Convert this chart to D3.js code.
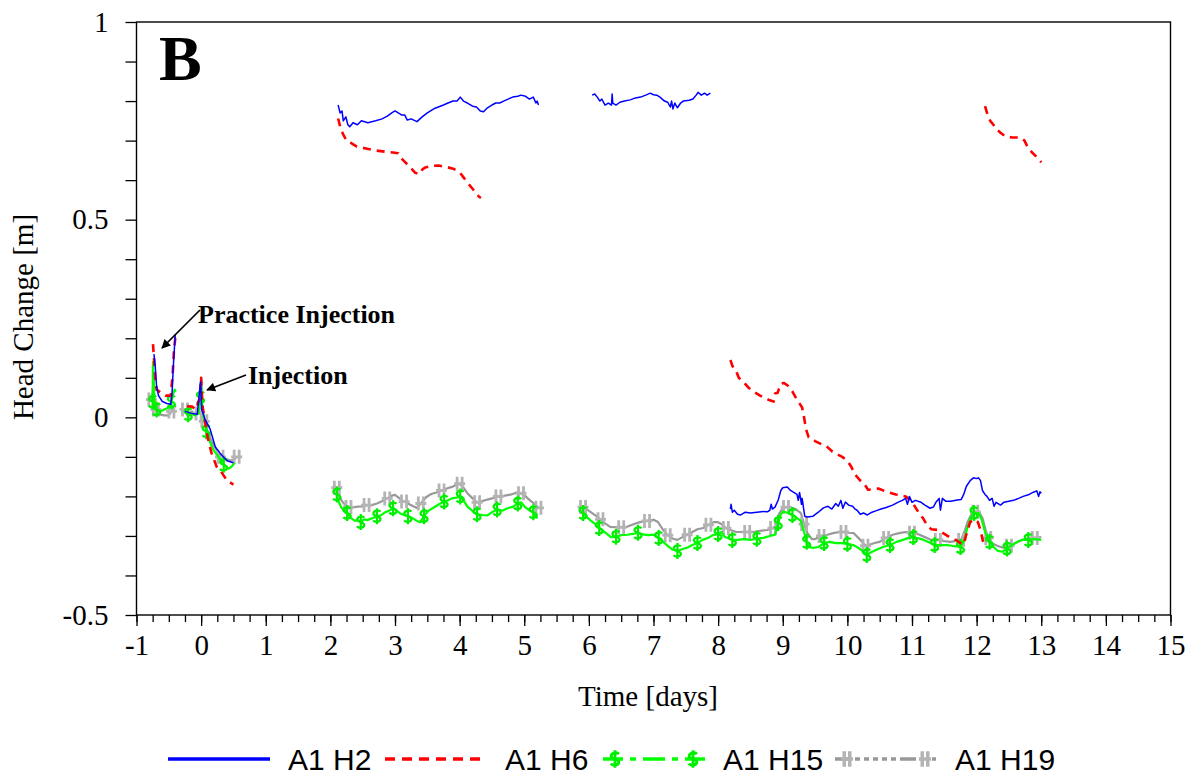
<!DOCTYPE html>
<html>
<head>
<meta charset="utf-8">
<script src="https://cdn.jsdelivr.net/npm/d3@7"></script>
<style>
  html, body { margin: 0; padding: 0; background: #fff; }
  svg { display: block; }
</style>
</head>
<body>
<svg id="chart" width="1194" height="778"></svg>
<script>
// Head change records (days since injection, metres), one array per logging segment
const h2 = [
  [[-0.73,0.16],[-0.71,0.13],[-0.69,0.08],[-0.66,0.055],[-0.60,0.04],[-0.53,0.035],[-0.47,0.033],[-0.45,0.06],[-0.43,0.13],[-0.40,0.21]],
  [[-0.25,0.015],[-0.15,0.01],[-0.06,0.008],[-0.01,0.09],[0.01,0.02],[0.06,-0.005],[0.14,-0.03],[0.22,-0.075],[0.29,-0.09],[0.40,-0.11],[0.50,-0.115]],
  [[2.12,0.79],[2.15,0.77],[2.18,0.775],[2.20,0.75],[2.24,0.76],[2.27,0.74],[2.30,0.735],[2.35,0.745],[2.42,0.74],[2.48,0.75],[2.58,0.745],[2.70,0.75],[2.80,0.755],[2.88,0.762],[2.95,0.77],[3.00,0.775],[3.05,0.77],[3.10,0.765],[3.15,0.765],[3.19,0.752],[3.25,0.755],[3.34,0.748],[3.42,0.76],[3.50,0.77],[3.55,0.775],[3.62,0.782],[3.70,0.787],[3.75,0.79],[3.82,0.795],[3.90,0.80],[3.96,0.80],[4.01,0.81],[4.06,0.80],[4.12,0.795],[4.20,0.787],[4.26,0.785],[4.32,0.775],[4.37,0.773],[4.43,0.783],[4.50,0.79],[4.56,0.795],[4.62,0.795],[4.68,0.80],[4.75,0.805],[4.82,0.81],[4.90,0.812],[4.95,0.815],[5.02,0.812],[5.08,0.805],[5.14,0.81],[5.18,0.795],[5.20,0.80],[5.22,0.79]],
  [[6.05,0.815],[6.09,0.818],[6.13,0.81],[6.17,0.80],[6.20,0.805],[6.25,0.79],[6.30,0.795],[6.35,0.79],[6.36,0.818],[6.37,0.795],[6.42,0.79],[6.48,0.797],[6.55,0.80],[6.64,0.803],[6.72,0.808],[6.80,0.81],[6.88,0.815],[6.95,0.82],[7.00,0.816],[7.05,0.815],[7.10,0.81],[7.17,0.80],[7.22,0.797],[7.26,0.785],[7.28,0.80],[7.30,0.78],[7.33,0.795],[7.37,0.783],[7.42,0.795],[7.46,0.80],[7.55,0.802],[7.61,0.805],[7.66,0.815],[7.69,0.822],[7.74,0.815],[7.79,0.82],[7.83,0.815],[7.88,0.82]],
  [[8.19,-0.232],[8.20,-0.22],[8.22,-0.24],[8.25,-0.235],[8.30,-0.245],[8.35,-0.247],[8.42,-0.24],[8.50,-0.242],[8.60,-0.24],[8.70,-0.238],[8.76,-0.239],[8.80,-0.235],[8.82,-0.22],[8.84,-0.232],[8.88,-0.227],[8.93,-0.209],[8.97,-0.185],[9.00,-0.178],[9.07,-0.176],[9.12,-0.185],[9.17,-0.19],[9.22,-0.195],[9.24,-0.21],[9.26,-0.19],[9.29,-0.22],[9.30,-0.205],[9.34,-0.25],[9.38,-0.252],[9.47,-0.25],[9.55,-0.24],[9.63,-0.229],[9.70,-0.225],[9.76,-0.232],[9.82,-0.218],[9.86,-0.225],[9.90,-0.21],[9.93,-0.23],[9.97,-0.214],[10.02,-0.222],[10.08,-0.225],[10.12,-0.232],[10.15,-0.235],[10.20,-0.245],[10.25,-0.242],[10.31,-0.247],[10.38,-0.24],[10.45,-0.236],[10.52,-0.232],[10.60,-0.228],[10.70,-0.222],[10.78,-0.215],[10.85,-0.21],[10.90,-0.205],[10.93,-0.22],[10.96,-0.20],[11.00,-0.215],[11.05,-0.21],[11.13,-0.214],[11.20,-0.222],[11.28,-0.23],[11.33,-0.227],[11.37,-0.215],[11.42,-0.205],[11.44,-0.235],[11.47,-0.205],[11.52,-0.212],[11.60,-0.212],[11.70,-0.209],[11.76,-0.208],[11.80,-0.195],[11.84,-0.175],[11.90,-0.16],[11.95,-0.153],[12.00,-0.155],[12.03,-0.153],[12.06,-0.16],[12.09,-0.185],[12.13,-0.195],[12.16,-0.20],[12.20,-0.21],[12.24,-0.205],[12.27,-0.225],[12.30,-0.215],[12.37,-0.222],[12.42,-0.215],[12.50,-0.212],[12.57,-0.21],[12.65,-0.205],[12.72,-0.20],[12.80,-0.196],[12.87,-0.19],[12.93,-0.186],[12.96,-0.20],[12.98,-0.188],[13.00,-0.192]]
];

const h6 = [
  [[-0.745,0.185],[-0.73,0.15],[-0.71,0.10],[-0.69,0.07],[-0.62,0.062],[-0.55,0.055],[-0.47,0.055],[-0.44,0.11],[-0.42,0.17],[-0.40,0.20],[-0.36,0.205]],
  [[-0.22,0.028],[-0.14,0.027],[-0.08,0.02],[-0.02,0.05],[0.00,0.10],[0.02,0.03],[0.06,-0.01],[0.10,-0.05],[0.16,-0.09],[0.24,-0.125],[0.30,-0.135],[0.40,-0.16],[0.50,-0.17]],
  [[2.12,0.756],[2.16,0.73],[2.20,0.715],[2.25,0.70],[2.31,0.695],[2.41,0.685],[2.55,0.68],[2.70,0.675],[2.85,0.672],[2.97,0.67],[3.05,0.668],[3.10,0.655],[3.16,0.645],[3.25,0.63],[3.31,0.619],[3.37,0.615],[3.43,0.628],[3.47,0.632],[3.58,0.636],[3.67,0.637],[3.80,0.633],[3.90,0.629],[4.00,0.62],[4.06,0.607],[4.13,0.592],[4.19,0.58],[4.25,0.568],[4.30,0.558],[4.33,0.555]],
  [[8.19,0.145],[8.22,0.13],[8.27,0.12],[8.32,0.10],[8.39,0.09],[8.47,0.075],[8.55,0.065],[8.65,0.055],[8.73,0.048],[8.80,0.043],[8.86,0.04],[8.88,0.06],[8.92,0.062],[8.97,0.085],[9.02,0.087],[9.08,0.08],[9.15,0.065],[9.22,0.045],[9.30,0.025],[9.33,0.0],[9.36,-0.03],[9.40,-0.05],[9.50,-0.06],[9.60,-0.068],[9.67,-0.072],[9.77,-0.087],[9.86,-0.095],[9.92,-0.10],[10.00,-0.11],[10.06,-0.125],[10.12,-0.145],[10.20,-0.16],[10.25,-0.166],[10.32,-0.183],[10.40,-0.182],[10.48,-0.18],[10.60,-0.188],[10.75,-0.195],[10.90,-0.20],[10.98,-0.21],[11.05,-0.227],[11.12,-0.245],[11.17,-0.255],[11.24,-0.275],[11.30,-0.283],[11.40,-0.285],[11.50,-0.295],[11.60,-0.305],[11.70,-0.312],[11.78,-0.322],[11.80,-0.32],[11.86,-0.285],[11.90,-0.265],[11.96,-0.258],[12.02,-0.265],[12.06,-0.285],[12.10,-0.315]],
  [[12.13,0.787],[12.17,0.765],[12.21,0.75],[12.26,0.74],[12.30,0.73],[12.37,0.72],[12.45,0.71],[12.55,0.708],[12.68,0.708],[12.74,0.70],[12.80,0.68],[12.87,0.668],[12.94,0.657],[13.00,0.645]]
];

const h15 = [
  [[-0.75,0.04],[-0.745,0.14],[-0.73,0.08],[-0.72,0.03],[-0.69,0.02],[-0.63,0.015],[-0.57,0.02],[-0.50,0.025],[-0.46,0.04],[-0.43,0.06],[-0.41,0.07],[-0.39,0.065]],
  [[-0.20,0.008],[-0.15,0.01],[-0.10,0.005],[-0.04,0.01],[-0.01,0.05],[0.00,0.10],[0.015,0.03],[0.04,0.0],[0.08,-0.035],[0.13,-0.06],[0.20,-0.085],[0.27,-0.10],[0.35,-0.12],[0.42,-0.13],[0.47,-0.125],[0.52,-0.115]],
  [[2.10,-0.195],[2.12,-0.21],[2.16,-0.225],[2.20,-0.235],[2.26,-0.242],[2.32,-0.255],[2.38,-0.262],[2.42,-0.26],[2.47,-0.265],[2.52,-0.258],[2.57,-0.26],[2.65,-0.255],[2.72,-0.25],[2.78,-0.248],[2.85,-0.24],[2.92,-0.235],[2.97,-0.23],[3.02,-0.235],[3.08,-0.243],[3.14,-0.247],[3.20,-0.25],[3.27,-0.255],[3.34,-0.262],[3.39,-0.265],[3.45,-0.25],[3.52,-0.236],[3.60,-0.228],[3.68,-0.22],[3.76,-0.213],[3.82,-0.21],[3.88,-0.205],[3.95,-0.203],[4.01,-0.20],[4.06,-0.21],[4.12,-0.226],[4.20,-0.237],[4.27,-0.245],[4.35,-0.247],[4.43,-0.248],[4.50,-0.24],[4.58,-0.233],[4.66,-0.236],[4.74,-0.23],[4.83,-0.226],[4.90,-0.218],[4.95,-0.215],[5.02,-0.228],[5.08,-0.235],[5.14,-0.24],[5.20,-0.256]],
  [[5.91,-0.242],[5.95,-0.25],[6.02,-0.26],[6.10,-0.27],[6.16,-0.28],[6.22,-0.287],[6.28,-0.295],[6.34,-0.303],[6.42,-0.302],[6.50,-0.298],[6.59,-0.297],[6.68,-0.295],[6.76,-0.292],[6.84,-0.296],[6.92,-0.298],[7.00,-0.297],[7.08,-0.305],[7.15,-0.315],[7.22,-0.325],[7.30,-0.335],[7.37,-0.338],[7.45,-0.333],[7.52,-0.33],[7.60,-0.323],[7.68,-0.318],[7.76,-0.31],[7.84,-0.305],[7.92,-0.298],[8.00,-0.295],[8.05,-0.29],[8.10,-0.302],[8.15,-0.305],[8.22,-0.31],[8.30,-0.31],[8.40,-0.308],[8.50,-0.31],[8.60,-0.307],[8.70,-0.305],[8.80,-0.30],[8.88,-0.297],[8.93,-0.267],[8.97,-0.245],[9.01,-0.238],[9.08,-0.242],[9.15,-0.247],[9.22,-0.255],[9.28,-0.262],[9.33,-0.29],[9.37,-0.315],[9.40,-0.328],[9.47,-0.33],[9.55,-0.328],[9.64,-0.318],[9.73,-0.315],[9.82,-0.318],[9.90,-0.318],[10.00,-0.32],[10.09,-0.323],[10.17,-0.33],[10.25,-0.34],[10.30,-0.348],[10.36,-0.342],[10.45,-0.335],[10.55,-0.328],[10.66,-0.323],[10.76,-0.315],[10.86,-0.31],[10.95,-0.305],[11.02,-0.303],[11.10,-0.306],[11.18,-0.31],[11.28,-0.317],[11.35,-0.323],[11.45,-0.323],[11.55,-0.323],[11.65,-0.326],[11.75,-0.328],[11.81,-0.31],[11.86,-0.277],[11.92,-0.25],[11.96,-0.242],[12.03,-0.242],[12.08,-0.26],[12.13,-0.29],[12.20,-0.315],[12.26,-0.328],[12.33,-0.338],[12.40,-0.34],[12.47,-0.332],[12.55,-0.323],[12.63,-0.315],[12.70,-0.31],[12.80,-0.31],[12.90,-0.308],[13.00,-0.31]]
];

const h19 = [
  [[-0.77,0.045],[-0.75,0.06],[-0.74,0.09],[-0.73,0.04],[-0.70,0.02],[-0.65,0.008],[-0.58,0.005],[-0.50,0.005],[-0.46,0.015],[-0.42,0.025],[-0.39,0.03]],
  [[-0.25,0.02],[-0.20,0.01],[-0.14,0.015],[-0.09,0.005],[-0.04,0.01],[-0.01,0.06],[0.00,0.095],[0.015,0.02],[0.05,-0.01],[0.10,-0.035],[0.16,-0.06],[0.23,-0.08],[0.30,-0.10],[0.38,-0.105],[0.46,-0.11],[0.52,-0.105],[0.55,-0.10]],
  [[2.10,-0.178],[2.12,-0.19],[2.17,-0.21],[2.23,-0.222],[2.28,-0.227],[2.35,-0.228],[2.42,-0.226],[2.50,-0.225],[2.56,-0.222],[2.64,-0.222],[2.72,-0.218],[2.80,-0.212],[2.88,-0.205],[2.95,-0.198],[3.00,-0.196],[3.07,-0.205],[3.14,-0.213],[3.20,-0.218],[3.28,-0.225],[3.34,-0.229],[3.40,-0.218],[3.48,-0.202],[3.56,-0.194],[3.64,-0.19],[3.72,-0.185],[3.80,-0.18],[3.88,-0.176],[3.96,-0.17],[4.00,-0.168],[4.06,-0.178],[4.12,-0.192],[4.20,-0.205],[4.27,-0.215],[4.35,-0.212],[4.43,-0.208],[4.50,-0.205],[4.60,-0.20],[4.70,-0.198],[4.80,-0.195],[4.88,-0.19],[4.95,-0.192],[5.02,-0.20],[5.09,-0.21],[5.15,-0.218],[5.22,-0.229]],
  [[5.91,-0.227],[5.96,-0.232],[6.03,-0.24],[6.10,-0.248],[6.18,-0.258],[6.25,-0.268],[6.33,-0.277],[6.42,-0.278],[6.50,-0.278],[6.59,-0.277],[6.70,-0.27],[6.79,-0.265],[6.90,-0.262],[7.00,-0.259],[7.07,-0.265],[7.15,-0.285],[7.22,-0.298],[7.30,-0.307],[7.37,-0.31],[7.45,-0.303],[7.52,-0.297],[7.60,-0.29],[7.68,-0.283],[7.77,-0.28],[7.85,-0.272],[7.93,-0.265],[7.99,-0.265],[8.05,-0.27],[8.12,-0.28],[8.19,-0.285],[8.28,-0.29],[8.35,-0.29],[8.45,-0.29],[8.55,-0.29],[8.65,-0.287],[8.76,-0.285],[8.85,-0.28],[8.90,-0.275],[8.94,-0.245],[9.00,-0.23],[9.05,-0.227],[9.12,-0.228],[9.20,-0.232],[9.28,-0.242],[9.33,-0.27],[9.38,-0.292],[9.45,-0.308],[9.50,-0.308],[9.60,-0.30],[9.69,-0.297],[9.78,-0.293],[9.87,-0.29],[9.94,-0.29],[10.02,-0.292],[10.10,-0.293],[10.20,-0.31],[10.28,-0.325],[10.33,-0.323],[10.42,-0.318],[10.50,-0.315],[10.60,-0.305],[10.70,-0.297],[10.80,-0.293],[10.90,-0.29],[11.00,-0.292],[11.10,-0.296],[11.20,-0.303],[11.30,-0.31],[11.40,-0.31],[11.50,-0.313],[11.60,-0.315],[11.70,-0.312],[11.76,-0.31],[11.81,-0.29],[11.86,-0.265],[11.92,-0.245],[11.98,-0.239],[12.04,-0.24],[12.09,-0.255],[12.14,-0.285],[12.18,-0.305],[12.25,-0.32],[12.32,-0.325],[12.41,-0.33],[12.50,-0.325],[12.60,-0.318],[12.70,-0.31],[12.80,-0.307],[12.90,-0.305],[13.00,-0.303]]
];

const seriesNames = ["A1 H2", "A1 H6", "A1 H15", "A1 H19"];
const xTicks = d3.range(-1, 16, 1);
const xMinorTicks = d3.range(-1, 15.001, 0.25);
const yTicks = d3.range(-0.5, 1.0001, 0.1).map(v => Math.round(v * 10) / 10);
const yTickLabels = [-0.5, 0, 0.5, 1];

const svg = d3.select("#chart");
const x = d3.scaleLinear().domain([-1, 15]).range([136.5, 1170.5]);
const y = d3.scaleLinear().domain([-0.5, 1]).range([615, 22]);

const serif = "'Liberation Serif', 'Times New Roman', serif";
const sans = "'Liberation Sans', Arial, sans-serif";

// marker glyphs
const dollarPath = "M3.5,-4.5 C2,-6.5 -3.5,-6 -3.5,-2.5 C-3.5,0.5 3.5,-0.5 3.5,2.8 C3.5,6 -2,6.5 -3.8,4.2 M0,-8 L0,8";
const hashPath = "M-2.5,-7 L-2.5,7 M2.5,-7 L2.5,7 M-5.5,0 L5.5,0";

const styles = [
  { data: h2,  color: "#0000ff", width: 1.5, dash: null, legendDash: null },
  { data: h6,  color: "#ff0000", width: 2.6, dash: "8,6", legendDash: "10,7" },
  { data: h15, color: "#00ff00", width: 2.2, dash: null, legendDash: "20,7,6,7,22,7,6,7,20",
    marker: dollarPath, mColor: "#00ee00", mWidth: 2.2 },
  { data: h19, color: "#999999", width: 2.2, dash: null, legendDash: "16,4,5,4,5,4,5,4,5,4,5,4,16",
    marker: hashPath, mColor: "#b4b4b4", mWidth: 2.8 }
];

const line = d3.line().x(d => x(d[0])).y(d => y(d[1]));

const plot = svg.append("g");
styles.slice().reverse().forEach(s => {
  const g = plot.append("g");
  s.data.forEach(seg => {
    g.append("path")
      .attr("d", line(seg))
      .attr("fill", "none")
      .attr("stroke", s.color)
      .attr("stroke-width", s.width)
      .attr("stroke-linejoin", "round")
      .attr("stroke-dasharray", s.dash);
    if (s.marker) {
      g.selectAll(null).data(seg.filter((d, i) => i % 4 === 0))
        .enter().append("path")
        .attr("d", s.marker)
        .attr("transform", d => `translate(${x(d[0])},${y(d[1])})`)
        .attr("fill", "none")
        .attr("stroke", s.mColor)
        .attr("stroke-width", s.mWidth);
    }
  });
});

// frame
svg.append("rect")
  .attr("x", x(-1)).attr("y", y(1))
  .attr("width", x(15) - x(-1)).attr("height", y(-0.5) - y(1))
  .attr("fill", "none").attr("stroke", "#000").attr("stroke-width", 1.4);

// x axis: major and minor ticks
const xMinor = svg.append("g").attr("transform", `translate(0,${y(-0.5)})`)
  .call(d3.axisBottom(x).tickValues(xMinorTicks).tickSize(7).tickFormat(""));
const xMajor = svg.append("g").attr("transform", `translate(0,${y(-0.5)})`)
  .call(d3.axisBottom(x).tickValues(xTicks).tickSize(11).tickPadding(8).tickFormat(d3.format("d")));
[xMinor, xMajor].forEach(g => {
  g.select(".domain").remove();
  g.selectAll("line").attr("stroke", "#000").attr("stroke-width", 1.3);
});
xMajor.selectAll("text").attr("font-family", serif).attr("font-size", 29).attr("fill", "#000")
  .text(d => d < 0 ? "-" + Math.abs(d) : d);

// y axis
const yAxis = svg.append("g").attr("transform", `translate(${x(-1)},0)`)
  .call(d3.axisLeft(y).tickValues(yTicks).tickSize(11).tickPadding(17)
    .tickFormat(d => yTickLabels.includes(d) ? (d < 0 ? "-" + String(Math.abs(d)) : String(d)) : ""));
yAxis.select(".domain").remove();
yAxis.selectAll("line").attr("stroke", "#000").attr("stroke-width", 1.3);
yAxis.selectAll("text").attr("font-family", serif).attr("font-size", 29).attr("fill", "#000");

// axis titles
svg.append("text").attr("x", 648).attr("y", 706).attr("text-anchor", "middle")
  .attr("font-family", serif).attr("font-size", 29).text("Time [days]");
svg.append("text").attr("transform", "translate(33,317) rotate(-90)").attr("text-anchor", "middle")
  .attr("font-family", serif).attr("font-size", 29).text("Head Change [m]");

// panel letter
svg.append("text").attr("x", 159).attr("y", 80)
  .attr("font-family", serif).attr("font-weight", "bold").attr("font-size", 64).text("B");

// annotations
const defs = svg.append("defs");
defs.append("marker").attr("id", "arrow").attr("viewBox", "0 0 10 10")
  .attr("refX", 9).attr("refY", 5).attr("markerWidth", 10).attr("markerHeight", 9)
  .attr("markerUnits", "userSpaceOnUse").attr("orient", "auto")
  .append("path").attr("d", "M0,0 L10,5 L0,10 Z").attr("fill", "#000");

svg.append("line").attr("x1", 200).attr("y1", 310).attr("x2", 162).attr("y2", 348)
  .attr("stroke", "#000").attr("stroke-width", 1.7).attr("marker-end", "url(#arrow)");
svg.append("text").attr("x", 198).attr("y", 323)
  .attr("font-family", serif).attr("font-weight", "bold").attr("font-size", 26).text("Practice Injection");
svg.append("line").attr("x1", 246).attr("y1", 375).attr("x2", 207).attr("y2", 390)
  .attr("stroke", "#000").attr("stroke-width", 1.7).attr("marker-end", "url(#arrow)");
svg.append("text").attr("x", 248).attr("y", 384)
  .attr("font-family", serif).attr("font-weight", "bold").attr("font-size", 26).text("Injection");

// legend
const legendX = [168, 385, 603, 835];
const legendLen = 102;
const legendY = 759;
const leg = svg.append("g");
styles.forEach((s, i) => {
  const x0 = legendX[i], x1 = x0 + legendLen;
  leg.append("line").attr("x1", x0).attr("x2", x1).attr("y1", legendY).attr("y2", legendY)
    .attr("stroke", s.color).attr("stroke-width", 3.5).attr("stroke-dasharray", s.legendDash);
  if (s.marker) {
    [x0 + 12, x1 - 12].forEach(mx => {
      leg.append("path").attr("d", s.marker)
        .attr("transform", `translate(${mx},${legendY}) scale(1.1)`)
        .attr("fill", "none").attr("stroke", s.mColor).attr("stroke-width", s.mWidth + 0.4);
    });
  }
  leg.append("text").attr("x", x1 + 18).attr("y", legendY + 11)
    .attr("font-family", sans).attr("font-size", 30).text(seriesNames[i]);
});
</script>
</body>
</html>
